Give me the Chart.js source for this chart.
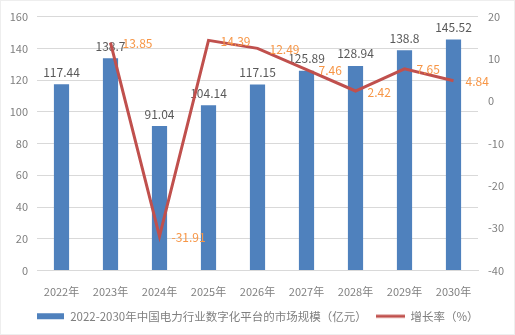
<!DOCTYPE html>
<html>
<head>
<meta charset="utf-8">
<script src="https://cdn.jsdelivr.net/npm/chart.js@4/dist/chart.umd.min.js"></script>
<style>
  html, body { margin: 0; padding: 0; background: #fff; }
  #wrap { width: 515px; height: 335px; }
</style>
</head>
<body>
<div id="wrap"><canvas id="chart" width="515" height="335"></canvas></div>
<script>
// chart data
const years = ['2022年', '2023年', '2024年', '2025年', '2026年', '2027年', '2028年', '2029年', '2030年'];
const marketSize = [117.44, 133.7, 91.04, 104.14, 117.15, 125.89, 128.94, 138.8, 145.52];
const marketLabels = ['117.44', '138.7', '91.04', '104.14', '117.15', '125.89', '128.94', '138.8', '145.52'];
const growthRate = [null, 13.85, -31.91, 14.39, 12.49, 7.46, 2.42, 7.65, 4.84];
const barName = '2022-2030年中国电力行业数字化平台的市场规模（亿元）';
const lineName = '增长率（%）';

const BLUE = '#4F81BD';
const RED = '#C0504D';
const ORANGE = '#F79646';
const FONT = '"Noto Sans CJK SC", "Noto Sans", sans-serif';

// small legend swatches
function makeSwatch(w, h, color, boxH) {
    const c = document.createElement('canvas');
    c.width = w;
    c.height = boxH;
    const g = c.getContext('2d');
    g.fillStyle = color;
    g.fillRect(0, (boxH - h) / 2, w, h);
    return c;
}
const barSwatch = makeSwatch(27, 6, BLUE, 8);
const lineSwatch = makeSwatch(29, 3, RED, 8);

// data labels drawn by hand
const labelPlugin = {
    id: 'labels',
    afterDatasetDraw(chart, args) {
        if (args.index !== 0) return;
        const ctx = chart.ctx;
        const meta = chart.getDatasetMeta(0);
        ctx.save();
        ctx.font = '12px ' + FONT;
        ctx.fillStyle = '#595959';
        ctx.textAlign = 'center';
        ctx.textBaseline = 'bottom';
        meta.data.forEach((bar, i) => {
            ctx.fillText(marketLabels[i], bar.x, bar.y - 6);
        });
        ctx.restore();
    },
    afterDatasetsDraw(chart) {
        const ctx = chart.ctx;
        const meta = chart.getDatasetMeta(1);
        ctx.save();
        ctx.font = '12px ' + FONT;
        ctx.fillStyle = ORANGE;
        ctx.textAlign = 'left';
        ctx.textBaseline = 'middle';
        meta.data.forEach((pt, i) => {
            if (growthRate[i] === null) return;
            ctx.fillText(String(growthRate[i]), pt.x + 12, pt.y + 1);
        });
        ctx.restore();
    },
    beforeDraw(chart) {
        const ctx = chart.ctx;
        ctx.save();
        ctx.fillStyle = '#fff';
        ctx.fillRect(0, 0, chart.width, chart.height);
        ctx.strokeStyle = '#EEEEEE';
        ctx.lineWidth = 1;
        ctx.strokeRect(0.5, 0.5, chart.width - 1, chart.height - 1);
        ctx.restore();
    }
};

new Chart(document.getElementById('chart'), {
    type: 'bar',
    data: {
        labels: years,
        datasets: [
            {
                type: 'bar',
                label: barName,
                data: marketSize,
                backgroundColor: BLUE,
                barPercentage: 0.31,
                categoryPercentage: 1,
                yAxisID: 'y',
                order: 1
            },
            {
                type: 'line',
                label: lineName,
                data: growthRate,
                borderColor: RED,
                backgroundColor: RED,
                borderWidth: 3,
                pointRadius: 0,
                tension: 0,
                spanGaps: false,
                yAxisID: 'y1',
                order: 0
            }
        ]
    },
    options: {
        responsive: false,
        animation: false,
        layout: { padding: { top: 15, left: 0, right: 0, bottom: 3 } },
        plugins: {
            tooltip: { enabled: false },
            legend: {
                position: 'bottom',
                labels: {
                    usePointStyle: true,
                    pointStyleWidth: 28,
                    boxHeight: 8,
                    padding: 10,
                    color: '#7F7F7F',
                    font: { family: FONT, size: 11.5 },
                    generateLabels(chart) {
                        return [
                            { text: barName, pointStyle: barSwatch, fillStyle: BLUE, strokeStyle: BLUE, lineWidth: 0, datasetIndex: 0, fontColor: '#7F7F7F' },
                            { text: lineName, pointStyle: lineSwatch, fillStyle: RED, strokeStyle: RED, lineWidth: 0, datasetIndex: 1, fontColor: '#7F7F7F' }
                        ];
                    }
                }
            }
        },
        scales: {
            x: {
                grid: { display: false },
                border: { display: true, color: '#D9D9D9' },
                ticks: { color: '#7F7F7F', font: { family: FONT, size: 11 }, padding: 7, maxRotation: 0 },
                afterFit(axis) { axis.height = 30; }
            },
            y: {
                position: 'left',
                min: 0,
                max: 160,
                ticks: { stepSize: 20, color: '#7F7F7F', font: { family: FONT, size: 11 }, padding: 9 },
                grid: { color: '#D9D9D9', drawTicks: false },
                border: { display: false },
                afterFit(axis) { axis.width = 37; }
            },
            y1: {
                position: 'right',
                min: -40,
                max: 20,
                ticks: { stepSize: 10, color: '#7F7F7F', font: { family: FONT, size: 11 }, padding: 10 },
                grid: { display: false, drawTicks: false },
                border: { display: false },
                afterFit(axis) { axis.width = 37; }
            }
        }
    },
    plugins: [labelPlugin]
});
</script>
</body>
</html>
